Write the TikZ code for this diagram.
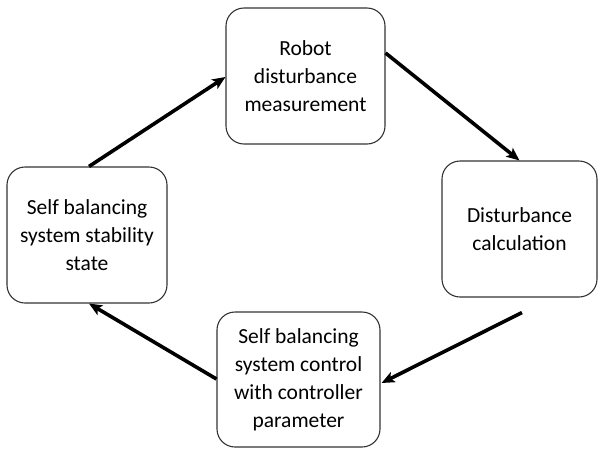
\documentclass[tikz,border=0pt]{standalone}
\usepackage{fontspec}
\setmainfont{Carlito}
\usetikzlibrary{arrows.meta,calc}
\begin{document}
\begin{tikzpicture}[x=1pt,y=-1pt,
  box/.style={draw=black!80,line width=1.1pt,rounded corners=18pt,rectangle,
    align=center,inner sep=0pt,font=\fontsize{21.5}{28}\selectfont},
  flow/.style={line width=3.6pt,-{Stealth[length=13pt,width=11pt,inset=3pt]}}]
\useasboundingbox (0,0) rectangle (598,448);
\node[box,minimum width=159pt,minimum height=136pt] (top) at (305.5,76) {Robot\\disturbance\\measurement};
\node[box,minimum width=155pt,minimum height=136pt] (right) at (519.5,229) {Disturbance\\calculation};
\node[box,minimum width=163pt,minimum height=135pt] (bottom) at (298.5,379.5) {Self balancing\\system control\\with controller\\parameter};
\node[box,minimum width=160pt,minimum height=136pt] (left) at (87,235) {Self balancing\\system stability\\state};
\coordinate (s2) at ($(top.east)+(0,-23)$);
\coordinate (s3) at ($(right.south)+(2.5,15)$);
\draw[flow] ($(left.north)+(2,0)$) -- ($(top.west)+(0,1)$);
\draw[flow] (s2) -- (right.north);
\draw[flow] (s3) -- ($(bottom.east)+(1,3.5)$);
\draw[flow] ($(bottom.west)+(0,-0.5)$) -- ($(left.south)+(2,0)$);
\end{tikzpicture}
\end{document}
